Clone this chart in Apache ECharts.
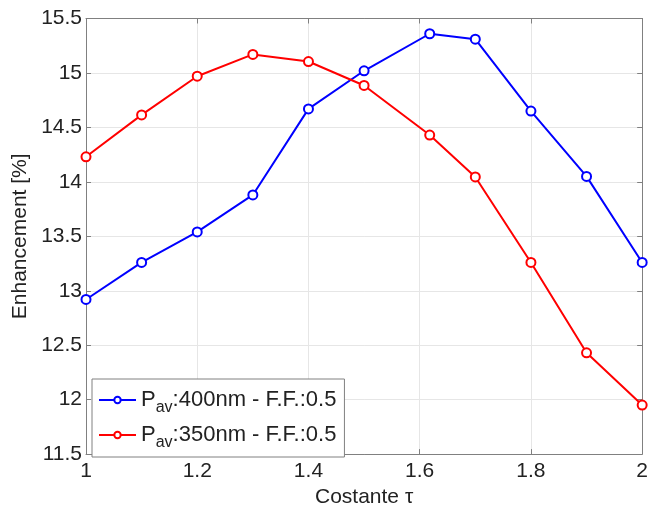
<!DOCTYPE html>
<html>
<head>
<meta charset="utf-8">
<script src="https://cdn.jsdelivr.net/npm/echarts@6/dist/echarts.min.js"></script>
<style>
  html, body { margin: 0; padding: 0; background: #fff; }
  #chart { width: 651px; height: 513px; }
</style>
</head>
<body>
<div id="chart"></div>
<script>
// costante tau (il punto 1.618 e' la sezione aurea)
const tau = [1, 1.1, 1.2, 1.3, 1.4, 1.5, 1.618, 1.7, 1.8, 1.9, 2]
const enh400 = [12.92, 13.26, 13.54, 13.88, 14.67, 15.02, 15.36, 15.31, 14.65, 14.05, 13.26]
const enh350 = [14.23, 14.615, 14.97, 15.17, 15.105, 14.885, 14.43, 14.045, 13.26, 12.43, 11.95]
const seriesNames = ['400', '350']

const font = 'Liberation Sans, Arial, sans-serif'
const axisGrey = '#808080'

function pairs (ys) {
  return tau.map((t, i) => [t, ys[i]])
}

function lineSeries (name, ys, color) {
  return {
    name: name,
    type: 'line',
    data: pairs(ys),
    symbol: 'circle',
    symbolSize: 9,
    lineStyle: { color: color, width: 2 },
    itemStyle: { color: '#fff', borderColor: color, borderWidth: 2 },
    emphasis: { disabled: true },
    z: name === '350' ? 3 : 2
  }
}

const chart = echarts.init(document.getElementById('chart'), null, { renderer: 'canvas' })

const baseX = {
  type: 'value', min: 1, max: 2, interval: 0.2,
  axisLine: { show: true, lineStyle: { color: axisGrey, width: 1 } },
  axisTick: { show: true, inside: true, length: 5, lineStyle: { color: axisGrey } }
}
const baseY = {
  type: 'value', min: 11.5, max: 15.5, interval: 0.5,
  axisLine: { show: true, lineStyle: { color: axisGrey, width: 1 } },
  axisTick: { show: true, inside: true, length: 5, lineStyle: { color: axisGrey } }
}

chart.setOption({
  animation: false,
  backgroundColor: '#fff',
  grid: { left: 86, right: 5, top: 18.5, bottom: 50.5, containLabel: false },
  xAxis: [
    Object.assign({}, baseX, {
      position: 'bottom',
      name: 'Costante τ',
      nameLocation: 'middle',
      nameGap: 27,
      nameTextStyle: { fontFamily: font, fontSize: 21, color: '#222' },
      axisLabel: { fontFamily: font, fontSize: 21, color: '#222', margin: 7 },
      splitLine: { show: true, lineStyle: { color: '#e6e6e6', width: 1 } }
    }),
    Object.assign({}, baseX, {
      position: 'top',
      axisLabel: { show: false },
      splitLine: { show: false }
    })
  ],
  yAxis: [
    Object.assign({}, baseY, {
      position: 'left',
      name: 'Enhancement [%]',
      nameLocation: 'middle',
      nameGap: 52,
      nameTextStyle: { fontFamily: font, fontSize: 21, color: '#222' },
      axisLabel: { fontFamily: font, fontSize: 21, color: '#222', margin: 4 },
      splitLine: { show: true, lineStyle: { color: '#e6e6e6', width: 1 } }
    }),
    Object.assign({}, baseY, {
      position: 'right',
      axisLabel: { show: false },
      splitLine: { show: false }
    })
  ],
  legend: {
    orient: 'vertical',
    left: 92,
    top: 379,
    data: seriesNames,
    backgroundColor: '#fff',
    borderColor: axisGrey,
    borderWidth: 1,
    padding: [5, 8, 6, 6],
    itemGap: 3,
    itemWidth: 37,
    itemHeight: 8,
    formatter: function (name) {
      return '{a|P}{b|av}{a|:' + name + 'nm - F.F.:0.5}'
    },
    textStyle: {
      fontFamily: font,
      color: '#222',
      rich: {
        a: { fontFamily: font, fontSize: 22, color: '#222', lineHeight: 26 },
        b: { fontFamily: font, fontSize: 16, color: '#222', lineHeight: 16, padding: [16, 0, 0, 0] }
      }
    }
  },
  series: [
    lineSeries('400', enh400, '#0000ff'),
    lineSeries('350', enh350, '#ff0000')
  ]
})
</script>
</body>
</html>
